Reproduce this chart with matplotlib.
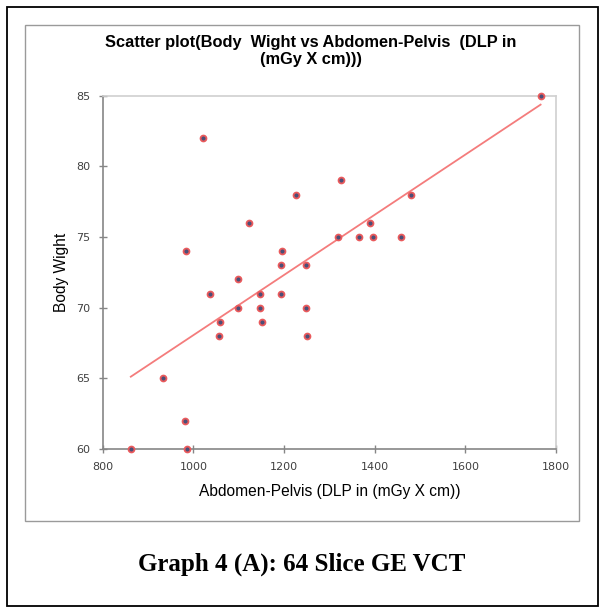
import matplotlib.pyplot as plt
import numpy as np
from matplotlib.patches import Rectangle

# data
dlp = [862, 934, 982, 986, 983, 1021, 1037, 1057, 1059, 1099, 1099, 1122, 1148, 1148, 1151,
       1193, 1193, 1196, 1226, 1248, 1248, 1251, 1319, 1326, 1365, 1390, 1397, 1458, 1481, 1766]
weight = [60, 65, 62, 60, 74, 82, 71, 68, 69, 70, 72, 76, 71, 70, 69,
          71, 73, 74, 78, 73, 70, 68, 75, 79, 75, 76, 75, 75, 78, 85]
x_ticks = [800, 1000, 1200, 1400, 1600, 1800]
y_ticks = [60, 65, 70, 75, 80, 85]

title = "Scatter plot(Body  Wight vs Abdomen-Pelvis  (DLP in\n(mGy X cm)))"
caption = "Graph 4 (A): 64 Slice GE VCT"

W, H = 602, 611
fig = plt.figure(figsize=(W / 100, H / 100), dpi=100)

# outer black frame and grey chart-area frame
fig.add_artist(Rectangle((7 / W, 1 - 606 / H), 591 / W, 599 / H, transform=fig.transFigure,
                         fill=False, edgecolor='black', lw=1.3))
fig.add_artist(Rectangle((25 / W, 1 - 521 / H), 554 / W, 496 / H, transform=fig.transFigure,
                         fill=False, edgecolor='#9a9a9a', lw=1.0))

ax = fig.add_axes([102.7 / W, 1 - 449 / H, (556 - 102.7) / W, (449 - 95.7) / H])

ax.scatter(dlp, weight, s=18, facecolor='#4a4f78', edgecolor='#ea5a5c', linewidths=1.3,
           zorder=3, clip_on=False)

# linear trend line across the data range
k, b = np.polyfit(dlp, weight, 1)
xs = np.array([min(dlp), max(dlp)])
ax.plot(xs, k * xs + b, color='#f47c7c', lw=1.3, zorder=2)

ax.set_xlim(800, 1800)
ax.set_ylim(60, 85)
ax.set_xticks(x_ticks)
ax.set_yticks(y_ticks)

for side in ['top', 'right']:
    ax.spines[side].set_color('#d0d0d0')
    ax.spines[side].set_linewidth(1.2)
for side in ['left', 'bottom']:
    ax.spines[side].set_color('#868686')
    ax.spines[side].set_linewidth(1.2)

ax.tick_params(direction='inout', length=6, width=1, color='#868686',
               labelsize=8, labelcolor='#404040', pad=6)

ax.set_xlabel("Abdomen-Pelvis (DLP in (mGy X cm))", fontsize=11.2, labelpad=9,
              family=['Liberation Sans', 'DejaVu Sans'])
ax.set_ylabel("Body Wight", fontsize=11.2, labelpad=5,
              family=['Liberation Sans', 'DejaVu Sans'])

fig.text(311 / W, 1 - 51 / H, title, ha='center', va='center', fontsize=11.8, fontweight='bold',
         family=['Liberation Sans', 'DejaVu Sans'], linespacing=1.15)

fig.text(302 / W, 1 - 564 / H, caption, ha='center', va='center', fontsize=18, fontweight='bold',
         family=['Liberation Serif', 'DejaVu Serif'])

plt.savefig('out.png', dpi=100)
plt.close()
